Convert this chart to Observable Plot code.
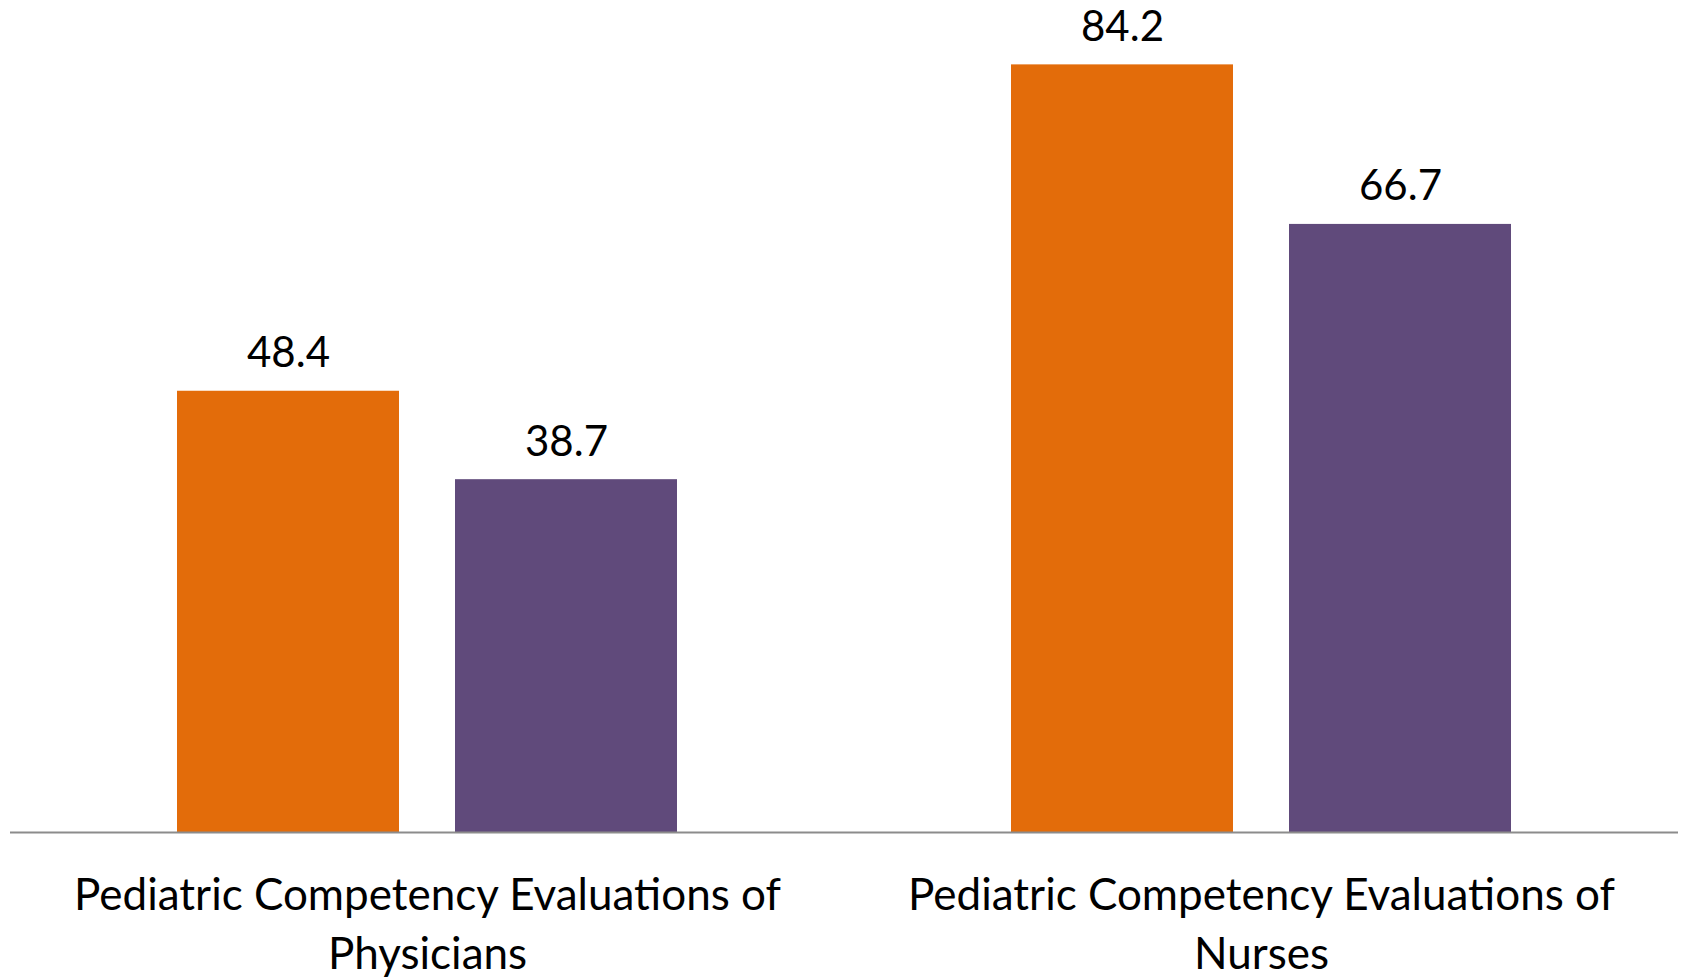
<!DOCTYPE html>
<html>
<head>
<meta charset="utf-8">
<script src="https://cdn.jsdelivr.net/npm/d3@7"></script>
<script src="https://cdn.jsdelivr.net/npm/@observablehq/plot@0.6"></script>
<style>
  html, body { margin: 0; padding: 0; background: #fff; }
  #chart svg { display: block; overflow: visible; }
</style>
</head>
<body>
<div id="chart"></div>
<script>
const categories = [
  "Pediatric Competency Evaluations of\nPhysicians",
  "Pediatric Competency Evaluations of\nNurses"
];
const series = ["Series 1", "Series 2"];
const seriesColors = ["#E36C0A", "#604A7B"];
const values = [
  [48.4, 38.7],
  [84.2, 66.7]
];

const data = [];
categories.forEach((c, i) => series.forEach((s, j) => data.push({category: c, series: s, value: values[i][j]})));

const font = "Lato, 'Open Sans', sans-serif";

const chart = Plot.plot({
  width: 1683,
  height: 978,
  marginTop: 11.5,
  marginBottom: 146,
  marginLeft: 9,
  marginRight: 5,
  style: {fontFamily: font, background: "#fff"},
  fx: {domain: categories, padding: 0, axis: null},
  x: {domain: series, paddingInner: 0.2, paddingOuter: 0.595, axis: null},
  y: {domain: [0, 90], axis: null},
  color: {domain: series, range: seriesColors},
  marks: [
    Plot.barY(data, {fx: "category", x: "series", y: "value", fill: "series"}),
    Plot.text(data, {fx: "category", x: "series", y: "value", text: d => d.value.toFixed(1),
      lineAnchor: "bottom", dy: -24, fontSize: 42, fill: "#000"}),
    Plot.ruleY([0], {stroke: "#8c8c8c", strokeWidth: 2}),
    Plot.text(categories, {fx: d => d, text: d => d, frameAnchor: "bottom",
      lineAnchor: "bottom", dy: 136, lineHeight: 1.34, fontSize: 44, fill: "#000"})
  ]
});
document.getElementById("chart").append(chart);
</script>
</body>
</html>
